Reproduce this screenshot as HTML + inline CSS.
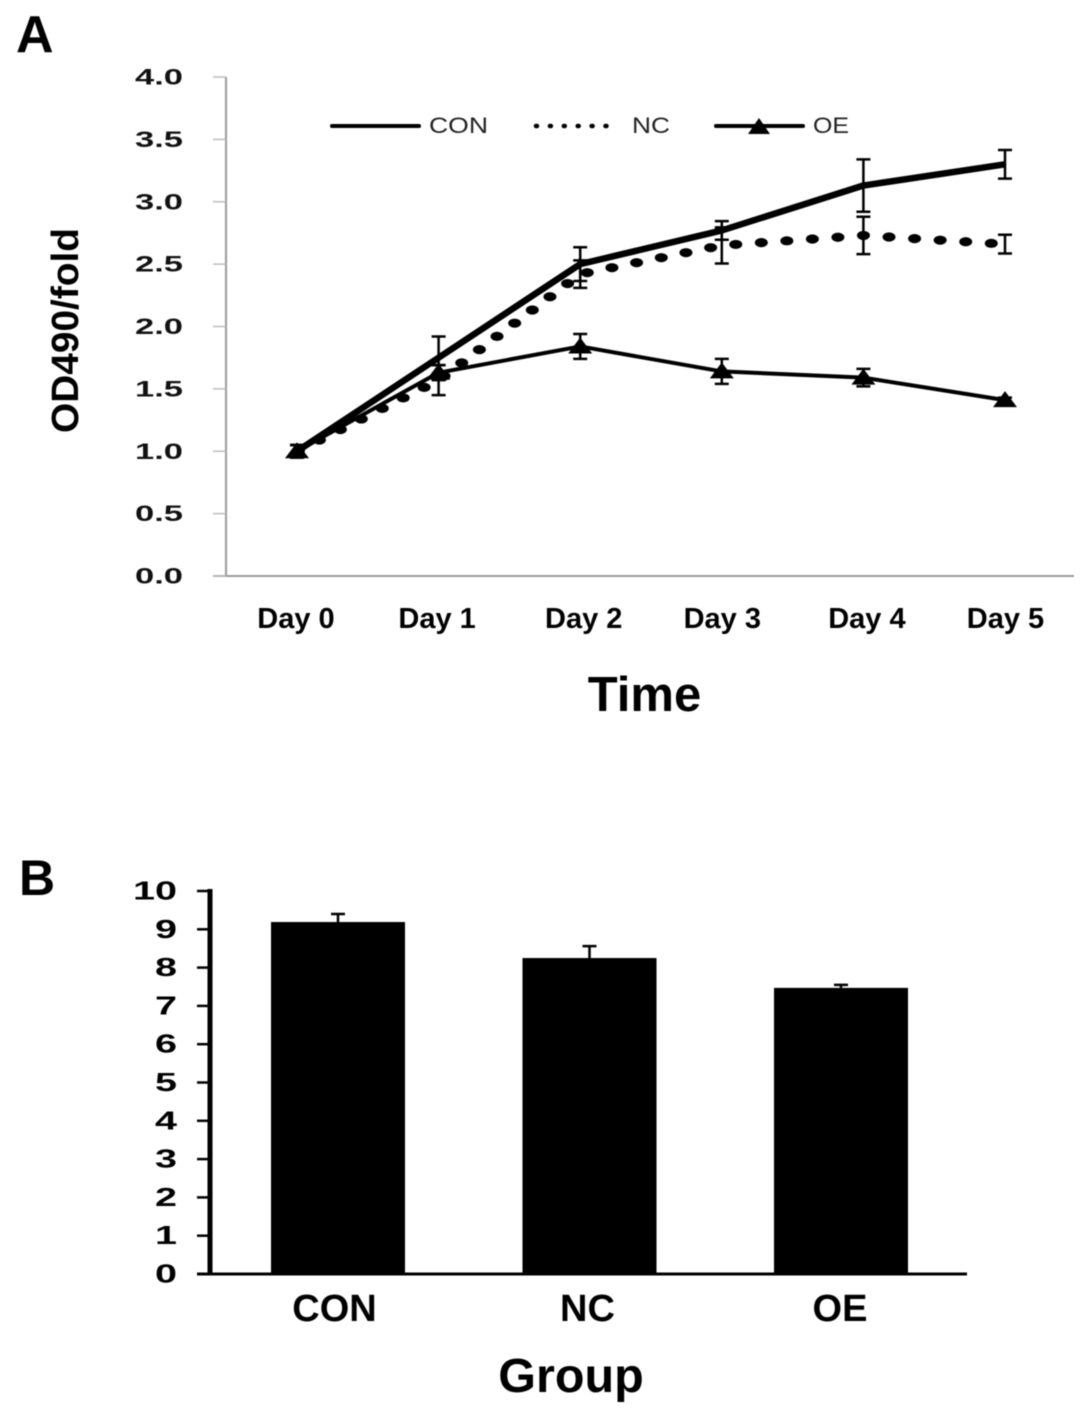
<!DOCTYPE html>
<html>
<head>
<meta charset="utf-8">
<style>
html,body{margin:0;padding:0;background:#fff;}
svg{display:block;filter:blur(0.4px);}
text{font-family:"Liberation Sans",Arial,sans-serif;}
</style>
</head>
<body>
<svg id="fig" xmlns="http://www.w3.org/2000/svg" width="1087" height="1417" viewBox="0 0 1087 1417">
<text x="16" y="52" font-size="52" font-weight="bold" fill="#000">A</text>
<text x="19" y="895" font-size="50" font-weight="bold" fill="#000">B</text>
<text transform="translate(78,433) rotate(-90)" font-size="38" font-weight="bold" textLength="205" lengthAdjust="spacingAndGlyphs" fill="#000">OD490/fold</text>
<text x="644.5" y="711" font-size="49" font-weight="bold" text-anchor="middle" fill="#000">Time</text>
<text x="571" y="1392" font-size="48.5" font-weight="bold" text-anchor="middle" fill="#000">Group</text>
<g>
  <line x1="332" y1="126" x2="419" y2="126" stroke="#000" stroke-width="4" stroke-linecap="round"/>
  <text x="429" y="133" font-size="22" fill="#222" textLength="59" lengthAdjust="spacingAndGlyphs">CON</text>
  <line x1="536" y1="126" x2="617" y2="126" stroke="#000" stroke-width="4.5" stroke-linecap="round" stroke-dasharray="1 12.9"/>
  <text x="632" y="133" font-size="22" fill="#222" textLength="38" lengthAdjust="spacingAndGlyphs">NC</text>
  <line x1="716" y1="126" x2="803" y2="126" stroke="#000" stroke-width="4" stroke-linecap="round"/>
  <polygon points="748,134 759,118 770,134" fill="#000"/>
  <text x="813" y="133" font-size="22" fill="#222" textLength="36" lengthAdjust="spacingAndGlyphs">OE</text>
</g>
</svg>
<script>
// Panel A data
var days = ['Day 0', 'Day 1', 'Day 2', 'Day 3', 'Day 4', 'Day 5'];
var yTicksA = ['0.0', '0.5', '1.0', '1.5', '2.0', '2.5', '3.0', '3.5', '4.0'];
var conValues = [1.0, 1.75, 2.5, 2.77, 3.13, 3.30];
var conErrors = [0.05, 0.17, 0.135, 0.075, 0.21, 0.115];
var ncValues = [1.0, 1.57, 2.42, 2.65, 2.73, 2.66];
var ncErrors = [0.05, 0.12, 0.11, 0.145, 0.15, 0.075];
var oeValues = [1.0, 1.63, 1.84, 1.64, 1.59, 1.41];
var oeErrors = [0.05, 0.06, 0.1, 0.1, 0.07, 0.02];
// Panel B data
var groups = ['CON', 'NC', 'OE'];
var yTicksB = ['0', '1', '2', '3', '4', '5', '6', '7', '8', '9', '10'];
var barValues = [9.19, 8.25, 7.47];
var barErrors = [0.21, 0.31, 0.08];

var NS = 'http://www.w3.org/2000/svg';
var fig = document.getElementById('fig');
function make(tag, attrs, txt) {
  var el = document.createElementNS(NS, tag);
  for (var k in attrs) el.setAttribute(k, attrs[k]);
  if (txt !== undefined) el.textContent = txt;
  fig.appendChild(el);
  return el;
}
// Axis functions
function xA(i) { return 297 + i * 141.6; }
function yA(v) { return 576 - v * 124.75; }
function xB(i) { return 338 + i * 251.5; }
function yB(v) { return 1274 - v * 38.3; }
var dayLabelShift = [-1, -1.5, 3.5, 0.5, 3.5, 0.5];
var groupLabelShift = [-3.5, -2, -1];

var el, i;
// Panel A axes
el = make('line', {x1: 226, y1: 77, x2: 226, y2: 577, stroke: '#9a9a9a', 'stroke-width': 2});


el = make('line', {x1: 213, y1: 576, x2: 1074, y2: 576, stroke: '#9a9a9a', 'stroke-width': 2});


yTicksA.forEach(function (t) {
  var y = yA(parseFloat(t));
  var tick = make('line', {x1: 213, y1: y, x2: 226, y2: y, stroke: '#bdbdbd', 'stroke-width': 1.5});
  
  
  var lab = make('text', {x: 135, y: y + 7.5, 'font-size': 22, 'font-weight': 'bold', fill: '#111', textLength: 48, lengthAdjust: 'spacingAndGlyphs'}, t);
  
  
});
days.forEach(function (d, n) {
  var lab = make('text', {x: xA(n) + dayLabelShift[n], y: 628, 'font-size': 29, 'font-weight': 'bold', 'text-anchor': 'middle', fill: '#000'}, d);
  
  
});

function pointsFor(vals) {
  return vals.map(function (v, n) { return xA(n) + ',' + yA(v); }).join(' ');
}
function errorBars(vals, errs, name) {
  vals.forEach(function (v, n) {
    var x = xA(n), t = yA(v + errs[n]), b = yA(v - errs[n]);
    var e = make('path', {d: 'M' + x + ' ' + t + 'V' + b + 'M' + (x - 7) + ' ' + t + 'H' + (x + 7) + 'M' + (x - 7) + ' ' + b + 'H' + (x + 7), stroke: '#000', 'stroke-width': 2.5, fill: 'none'});
    
    
  });
}

// NC dotted series: dots are walked along the line from the data
var dotK = 1.41, dotStep = 18.2, dotPhase = 1.3;
var ncGroup = make('g', {});


var walked = dotStep - dotPhase;
for (i = 0; i < ncValues.length - 1; i++) {
  var x0 = xA(i), y0 = yA(ncValues[i]), x1 = xA(i + 1), y1 = yA(ncValues[i + 1]);
  var len = Math.sqrt(Math.pow((x1 - x0) / dotK, 2) + Math.pow(y1 - y0, 2));
  var pos = dotStep - walked;
  if (pos < 0) pos = 0;
  while (pos <= len) {
    var f = pos / len;
    var dot = document.createElementNS(NS, 'ellipse');
    dot.setAttribute('cx', x0 + (x1 - x0) * f);
    dot.setAttribute('cy', y0 + (y1 - y0) * f);
    dot.setAttribute('rx', 6.5);
    dot.setAttribute('ry', 4.6);
    dot.setAttribute('fill', '#000');
    
    
    ncGroup.appendChild(dot);
    pos += dotStep;
  }
  walked = len - (pos - dotStep);
}
errorBars(ncValues, ncErrors, 'nc');

// CON series
el = make('polyline', {points: pointsFor(conValues), fill: 'none', stroke: '#000', 'stroke-width': 6.5, 'stroke-linejoin': 'round'});


errorBars(conValues, conErrors, 'con');

// OE series
el = make('polyline', {points: pointsFor(oeValues), fill: 'none', stroke: '#000', 'stroke-width': 4, 'stroke-linejoin': 'round'});


errorBars(oeValues, oeErrors, 'oe');
oeValues.forEach(function (v, n) {
  var x = xA(n), y = yA(v);
  var tri = make('polygon', {points: (x - 12) + ',' + (y + 7) + ' ' + x + ',' + (y - 9) + ' ' + (x + 12) + ',' + (y + 7), fill: '#000'});
  
  
});

// Panel B axes
el = make('line', {x1: 210, y1: 889, x2: 210, y2: 1275, stroke: '#000', 'stroke-width': 5});


el = make('line', {x1: 197, y1: 1274, x2: 967, y2: 1274, stroke: '#000', 'stroke-width': 3});


yTicksB.forEach(function (t) {
  var y = yB(parseFloat(t));
  var tick = make('line', {x1: 197, y1: y, x2: 210, y2: y, stroke: '#000', 'stroke-width': 2.5});
  
  
  var lab = make('text', {x: 177, y: y + 8.5, 'font-size': 25.5, 'font-weight': 'bold', 'text-anchor': 'end', fill: '#000', textLength: t.length * 22, lengthAdjust: 'spacingAndGlyphs'}, t);
  
  
});
groups.forEach(function (g, n) {
  var x = xB(n), top = yB(barValues[n]), capY = yB(barValues[n] + barErrors[n]);
  var err = make('path', {d: 'M' + x + ' ' + top + 'V' + capY + 'M' + (x - 7) + ' ' + capY + 'H' + (x + 7), stroke: '#000', 'stroke-width': 2.5, fill: 'none'});
  
  
  var bar = make('rect', {x: x - 67, y: top, width: 134, height: yB(0) - top, fill: '#000'});
  
  
  var lab = make('text', {x: x + groupLabelShift[n], y: 1321, 'font-size': 38, 'font-weight': 'bold', 'text-anchor': 'middle', fill: '#000'}, g);
  
  
});
</script>
</body>
</html>
